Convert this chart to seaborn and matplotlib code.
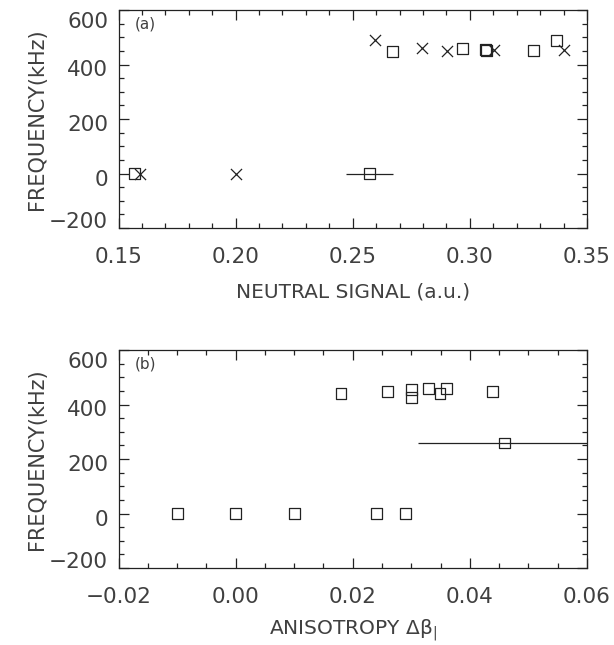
import numpy as np
import pandas as pd
import matplotlib
matplotlib.use("Agg")
import matplotlib.pyplot as plt
import matplotlib.transforms as mtransforms
from matplotlib.ticker import MultipleLocator, FixedLocator, FixedFormatter
import seaborn as sns

# ---- panel (a): frequency vs neutral signal ----
a_cross_x = [0.159, 0.200, 0.2596, 0.2795, 0.2902, 0.3101, 0.3400]
a_cross_f = [0, 0, 490, 460, 450, 455, 452]
a_box_x = [0.1568, 0.2572, 0.2670, 0.2970, 0.3066, 0.3072, 0.3270, 0.3369]
a_box_f = [0, 0, 448, 460, 455, 450, 452, 488]
a_err_x = [0.2572]
a_err_f = [0]
a_err_dx = [0.0099]

# ---- panel (b): frequency vs anisotropy ----
b_box_x = [-0.0099, 0.0000, 0.0100, 0.0240, 0.0290,
           0.0180, 0.0259, 0.0300, 0.0300, 0.0329, 0.0349, 0.0360, 0.0439, 0.0459]
b_box_f = [0, 0, 0, 0, 0,
           440, 449, 455, 425, 460, 440, 460, 449, 259]
b_err_x = [0.0459]
b_err_f = [259]
b_err_dx = [0.0148]

a_xticks = [0.15, 0.20, 0.25, 0.30, 0.35]
a_xticklabels = ["0.15", "0.20", "0.25", "0.30", "0.35"]
b_xticks = [-0.02, 0.0, 0.02, 0.04, 0.06]
b_xticklabels = ["\u22120.02", "0.00", "0.02", "0.04", "0.06"]
yticks = [-200, 0, 200, 400, 600]
yticklabels = ["\u2212200", "0", "200", "400", "600"]

sns.set_theme(style="ticks")
plt.rcParams["font.family"] = ["DejaVu Sans"]
plt.rcParams["mathtext.fontset"] = "dejavusans"

INK = "#222222"
TXT = "#404040"

fig = plt.figure(figsize=(6.14, 6.45), dpi=100)
ax_a = fig.add_axes([118.5 / 614, 1 - 228 / 645, 468.5 / 614, 218 / 645])
ax_b = fig.add_axes([118.5 / 614, 1 - 568 / 645, 468.5 / 614, 218 / 645])

box_kw = dict(marker="s", s=60, facecolors="none", edgecolors=INK,
              linewidths=0.9, color=INK, legend=False, zorder=3)
cross_kw = dict(marker="x", s=64, linewidths=0.9, color=INK, legend=False, zorder=3)

df_ac = pd.DataFrame({"x": a_cross_x, "f": a_cross_f})
df_ab = pd.DataFrame({"x": a_box_x, "f": a_box_f})
sns.scatterplot(data=df_ab, x="x", y="f", ax=ax_a, **box_kw)
sns.scatterplot(data=df_ac, x="x", y="f", ax=ax_a, **cross_kw)
ax_a.errorbar(a_err_x, a_err_f, xerr=a_err_dx, fmt="none", ecolor=INK,
              elinewidth=0.9, capsize=0, zorder=2)

df_bb = pd.DataFrame({"x": b_box_x, "f": b_box_f})
sns.scatterplot(data=df_bb, x="x", y="f", ax=ax_b, **box_kw)
ax_b.errorbar(b_err_x, b_err_f, xerr=b_err_dx, fmt="none", ecolor=INK,
              elinewidth=0.9, capsize=0, zorder=2)

ax_a.set_xlim(0.15, 0.35)
ax_a.xaxis.set_major_locator(FixedLocator(a_xticks))
ax_a.xaxis.set_major_formatter(FixedFormatter(a_xticklabels))
ax_a.xaxis.set_minor_locator(MultipleLocator(0.01))

ax_b.set_xlim(-0.02, 0.06)
ax_b.xaxis.set_major_locator(FixedLocator(b_xticks))
ax_b.xaxis.set_major_formatter(FixedFormatter(b_xticklabels))
ax_b.xaxis.set_minor_locator(MultipleLocator(0.005))

# vertical nudges (pixels) for the y tick labels, keeping the end labels inside the frame
y_nudge = [8, -4, -4, -4, -10]

for ax, tag, xl, xpad in [(ax_a, "(a)", "NEUTRAL SIGNAL (a.u.)", 11),
                          (ax_b, "(b)", "ANISOTROPY \u0394\u03b2$_{|}$", 7)]:
    ax.set_ylim(-200, 600)
    ax.yaxis.set_major_locator(FixedLocator(yticks))
    ax.yaxis.set_major_formatter(FixedFormatter(yticklabels))
    ax.yaxis.set_minor_locator(MultipleLocator(50))
    ax.tick_params(which="both", direction="in", top=True, right=True,
                   color=INK, width=0.9, labelcolor=TXT, labelsize=15.5)
    ax.tick_params(which="major", length=7)
    ax.tick_params(which="minor", length=3.5)
    ax.tick_params(axis="x", which="major", pad=14)
    ax.tick_params(axis="y", which="major", pad=7.5)
    for sp in ax.spines.values():
        sp.set_color(INK)
        sp.set_linewidth(0.9)
    ax.set_xlabel(xl, fontsize=14.5, color=TXT, labelpad=xpad)
    ax.set_ylabel("FREQUENCY(kHz)", fontsize=15, color=TXT, labelpad=1.5)
    ax.text(0.058, 0.936, tag, transform=ax.transAxes, fontsize=11,
            color=TXT, ha="center", va="center")

fig.canvas.draw()
for ax in (ax_a, ax_b):
    for tick, dy in zip(ax.yaxis.get_major_ticks(), y_nudge):
        lab = tick.label1
        lab.set_transform(lab.get_transform() +
                          mtransforms.ScaledTranslation(0, dy / 100, fig.dpi_scale_trans))

fig.savefig("out.png", dpi=100, facecolor="white")
